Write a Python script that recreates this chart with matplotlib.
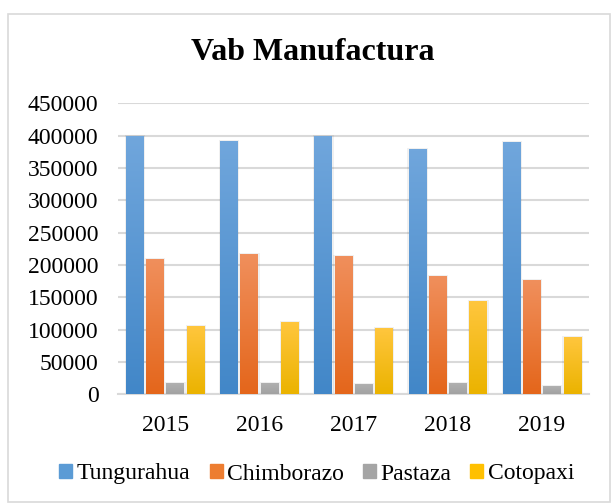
import matplotlib.pyplot as plt
import matplotlib.patches as mpatches
import numpy as np

years = ["2015", "2016", "2017", "2018", "2019"]
series = ["Tungurahua", "Chimborazo", "Pastaza", "Cotopaxi"]
tungurahua = [398000, 390000, 398000, 378000, 389000]
chimborazo = [208000, 215000, 212000, 181000, 175000]
pastaza = [16000, 16000, 14500, 16000, 11500]
cotopaxi = [104000, 110000, 101000, 143000, 87000]
values = [tungurahua, chimborazo, pastaza, cotopaxi]

# top / bottom colours of the gradient
tops = ["#70a6dc", "#f08f5c", "#b0b0b0", "#ffc63d"]
bots = ["#4287c8", "#e4661b", "#a2a2a2", "#ebb300"]
flat = ["#5b9bd5", "#ed7d31", "#a5a5a5", "#ffc000"]

plt.rcParams['font.family'] = ['Liberation Serif', 'DejaVu Serif']

fig = plt.figure(figsize=(6.11, 5.03), dpi=100)
ax = fig.add_axes([118/611, 1-394.3/503, 471/611, 291/503])

x = np.arange(len(years))
w = 0.186
pitch = 0.215
ymax = 450000

for k in range(4):
    c1 = np.array(plt.matplotlib.colors.to_rgb(tops[k]))
    c2 = np.array(plt.matplotlib.colors.to_rgb(bots[k]))
    t = np.linspace(0, 1, 64)[:, None]
    grad = (c1 * (1 - t) + c2 * t)[:, None, :]
    for i in range(len(years)):
        xc = x[i] + (k - 1.5) * pitch
        v = values[k][i]
        # soft shadow
        ax.add_patch(mpatches.Rectangle((xc - w/2 - 0.012, 0), w + 0.03, v + 3000,
                                        color="#000000", alpha=0.06, lw=0, zorder=2))
        ax.imshow(grad, extent=(xc - w/2, xc + w/2, 0, v), aspect='auto',
                  zorder=3, interpolation='bilinear')

ax.set_xlim(-0.5, 4.5)
ax.set_ylim(0, ymax)
ax.set_yticks(np.arange(0, 450001, 50000))
ax.yaxis.grid(True, color="#d9d9d9", lw=1.5)
ax.set_axisbelow(True)
for s in ["top", "right", "left"]:
    ax.spines[s].set_visible(False)
ax.spines["bottom"].set_color("#d9d9d9")
ax.spines["bottom"].set_linewidth(1.5)
ax.set_xticks(x)
ax.set_xticklabels(years)
ax.tick_params(length=0, labelsize=17)
ax.tick_params(axis='x', pad=15)
ax.tick_params(axis='y', pad=14)

fig.text(313/611, 1-53/503, "Vab Manufactura", ha='center', va='center',
         fontsize=23, fontweight='bold')

handles = [mpatches.Patch(color=flat[k], label=series[k]) for k in range(4)]
fig.legend(handles=handles, loc='center', bbox_to_anchor=(317/611, 1-474/503),
           ncol=4, frameon=False, fontsize=17, handlelength=0.55, handleheight=0.55,
           handletextpad=0.2, columnspacing=0.8)

fig.add_artist(mpatches.Rectangle((8/611, 0.002), 602/611, 1-14/503-0.002,
                                  transform=fig.transFigure, fill=False,
                                  edgecolor="#d9d9d9", lw=1.2))

fig.savefig("out.png", dpi=100)
